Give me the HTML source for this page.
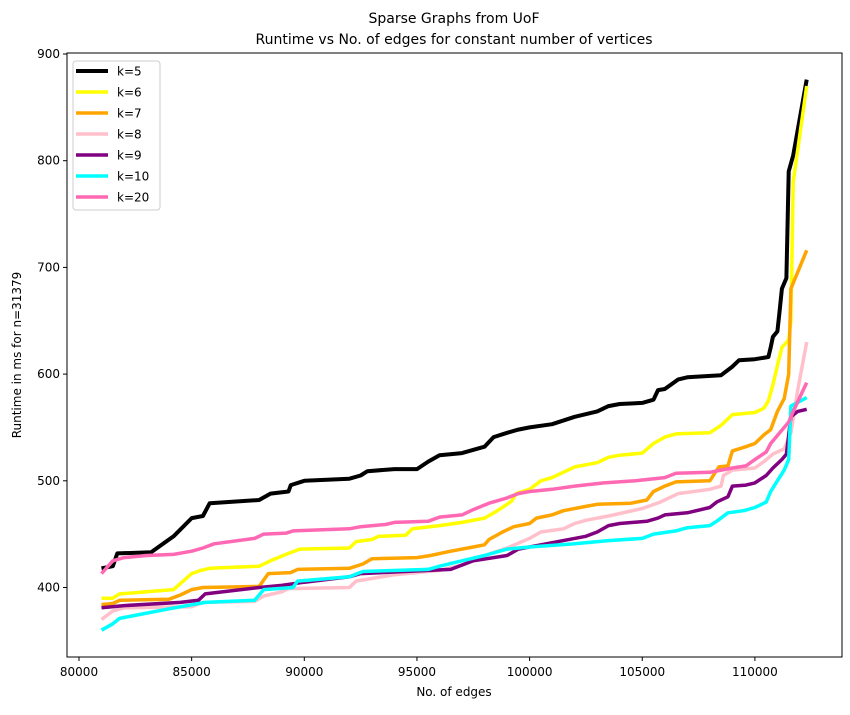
<!DOCTYPE html>
<html><head><meta charset="utf-8"><style>
body{margin:0;background:#fff;font-family:"Liberation Sans","DejaVu Sans",sans-serif}
svg text{font-family:"DejaVu Sans","Liberation Sans",sans-serif;fill:#000}
</style></head><body>
<svg id="chart" width="850" height="710" xmlns="http://www.w3.org/2000/svg">
<text x="454" y="23" font-size="14" text-anchor="middle">Sparse Graphs from UoF</text>
<text x="454" y="44" font-size="14" text-anchor="middle">Runtime vs No. of edges for constant number of vertices</text>
<g id="series"></g>
<rect x="67" y="53" width="775" height="604" fill="none" stroke="#000" stroke-width="1"/>
<g id="xticks"></g>
<g id="yticks"></g>
<text x="454" y="696" font-size="12" text-anchor="middle">No. of edges</text>
<text x="21" y="355" font-size="12" text-anchor="middle" transform="rotate(-90 21 355)">Runtime in ms for n=31379</text>
<g id="legend"></g>
</svg>
<script>
const seriesNames=["k=5","k=6","k=7","k=8","k=9","k=10","k=20"];
const seriesColors=["#000000","#ffff00","#ffa500","#ffc0cb","#800080","#00ffff","#ff69b4"];
const xTicks=[80000,85000,90000,95000,100000,105000,110000];
const yTicks=[400,500,600,700,800,900];
const k5=[[81,418],[81.5,420],[81.7,432],[83.2,433],[84.2,448],[85,465],[85.5,467],[85.8,479],[88,482],[88.5,488],[89.3,490],[89.4,496],[90,500],[92,502],[92.5,505],[92.8,509],[94,511],[95,511],[95.5,518],[96,524],[97,526],[98,532],[98.4,541],[99,545],[99.5,548],[100,550],[101,553],[102,560],[103,565],[103.5,570],[104,572],[105,573],[105.5,576],[105.7,585],[106,586],[106.6,595],[107,597],[108.5,599],[109,607],[109.3,613],[110,614],[110.6,616],[110.7,625],[110.8,635],[111,640],[111.1,660],[111.2,680],[111.4,690],[111.5,790],[111.7,805],[112.3,876]];
const k6=[[81,390],[81.5,390],[81.8,394],[83,396],[84.2,398],[85,413],[85.4,416],[85.8,418],[88,420],[88.5,425],[89.3,432],[89.8,436],[92,437],[92.3,443],[93,445],[93.3,448],[94.5,449],[94.8,455],[96,458],[97,461],[98,465],[98.5,471],[99,478],[99.2,481],[99.4,488],[100,492],[100.5,500],[101,503],[102,513],[103,517],[103.5,522],[104,524],[105,526],[105.5,535],[106,541],[106.5,544],[108,545],[108.5,552],[109,562],[110,564],[110.4,568],[110.6,575],[110.8,590],[111,608],[111.2,625],[111.5,632],[111.6,650],[111.7,780],[112.3,870]];
const k7=[[81,384],[81.5,385],[81.8,388],[84,389],[84.5,393],[85,398],[85.5,400],[88,401],[88.2,407],[88.4,413],[89.4,414],[89.7,417],[92,418],[92.6,422],[93,427],[95,428],[95.6,430],[96.5,434],[97.5,438],[98,440],[98.2,445],[98.8,452],[99.3,457],[100,460],[100.3,465],[101,468],[101.5,472],[102.5,476],[103,478],[104.5,479],[105.2,482],[105.5,490],[106,495],[106.5,499],[108,500],[108.4,513],[108.8,514],[109,528],[109.6,532],[110,535],[110.4,543],[110.7,548],[111,565],[111.3,577],[111.5,600],[111.6,680],[112.3,716]];
const k8=[[81,370],[81.5,378],[82,381],[85,382],[85.5,386],[87.8,387],[88.2,392],[89,396],[89.3,399],[92,400],[92.3,406],[94,412],[96,416],[97,421],[98,430],[99,437],[100,446],[100.5,452],[101.5,455],[102,460],[102.5,463],[103.5,467],[105,474],[105.8,480],[106.6,488],[108,492],[108.5,495],[108.6,505],[109,510],[110,512],[110.4,518],[110.8,525],[111.3,530],[111.6,545],[111.9,585],[112.3,630]];
const k9=[[81,381],[82,383],[84.5,386],[85.3,388],[85.6,394],[88,400],[89,402],[90,405],[92,410],[92.5,413],[96.5,417],[97.5,425],[99,430],[99.5,436],[100.5,440],[101,442],[102.5,448],[103,452],[103.5,458],[104,460],[105.2,462],[105.7,465],[106,468],[107,470],[108,475],[108.3,480],[108.8,485],[109,495],[109.6,496],[110,498],[110.5,505],[110.8,512],[111.2,520],[111.4,525],[111.6,560],[111.9,565],[112.3,567]];
const k10=[[81,360],[81.5,366],[81.8,371],[84,380],[85.6,386],[87.8,388],[88.2,398],[89.5,400],[89.7,406],[92,410],[92.6,415],[95.5,417],[96,420],[97,425],[98,430],[99,436],[100,438],[102,441],[103.5,444],[105,446],[105.5,450],[106.5,453],[107,456],[108,458],[108.3,462],[108.8,470],[109.5,472],[110,475],[110.5,480],[110.7,490],[111,500],[111.3,510],[111.5,520],[111.6,570],[112.3,578]];
const k20=[[81,413],[81.5,425],[82,428],[83,430],[84.2,431],[85,434],[85.5,437],[86,441],[87.8,446],[88.2,450],[89.2,451],[89.5,453],[92,455],[92.5,457],[93.6,459],[94,461],[95.5,462],[96,466],[97,468],[97.5,473],[98.2,479],[99,484],[99.5,488],[100,490],[101,492],[102,495],[103.3,498],[104.7,500],[106,503],[106.5,507],[108,508],[108.5,510],[109,512],[109.6,514],[110,520],[110.5,527],[110.7,535],[111.1,545],[111.5,555],[111.7,565],[112.3,592]];
const allSeries=[k5,k6,k7,k8,k9,k10,k20];
const NS="http://www.w3.org/2000/svg";
function xs(v){return 79+(v-80000)*0.02253;}
function ys(v){return 54+(900-v)*1.067;}
const sg=document.getElementById('series');
allSeries.forEach((s,i)=>{
  const p=document.createElementNS(NS,'polyline');
  
  
  p.setAttribute('points',s.map(d=>xs(d[0]*1000).toFixed(1)+','+ys(d[1]).toFixed(1)).join(' '));
  p.setAttribute('fill','none');p.setAttribute('stroke',seriesColors[i]);
  p.setAttribute('stroke-width',i===0?4:3.5);p.setAttribute('stroke-linejoin','round');
  sg.appendChild(p);
});
const xg=document.getElementById('xticks');
xTicks.forEach(t=>{
  const x=xs(t);
  const l=document.createElementNS(NS,'line');
  
  
  l.setAttribute('x1',x);l.setAttribute('x2',x);l.setAttribute('y1',657);l.setAttribute('y2',661);l.setAttribute('stroke','#000');
  xg.appendChild(l);
  const tx=document.createElementNS(NS,'text');
  
  
  tx.setAttribute('x',x);tx.setAttribute('y',676);tx.setAttribute('font-size','12');tx.setAttribute('text-anchor','middle');
  tx.textContent=t;xg.appendChild(tx);
});
const yg=document.getElementById('yticks');
yTicks.forEach(t=>{
  const y=ys(t);
  const l=document.createElementNS(NS,'line');
  
  
  l.setAttribute('x1',63);l.setAttribute('x2',67);l.setAttribute('y1',y);l.setAttribute('y2',y);l.setAttribute('stroke','#000');
  yg.appendChild(l);
  const tx=document.createElementNS(NS,'text');
  
  
  tx.setAttribute('x',60);tx.setAttribute('y',y+4);tx.setAttribute('font-size','12');tx.setAttribute('text-anchor','end');
  tx.textContent=t;yg.appendChild(tx);
});
const lg=document.getElementById('legend');
const box=document.createElementNS(NS,'rect');


box.setAttribute('x',73);box.setAttribute('y',61);box.setAttribute('width',87);box.setAttribute('height',149);box.setAttribute('rx',3);
box.setAttribute('fill','#fff');box.setAttribute('fill-opacity','0.8');box.setAttribute('stroke','#ccc');
lg.appendChild(box);
seriesNames.forEach((n,i)=>{
  const y=71+i*21;
  const l=document.createElementNS(NS,'line');
  
  
  l.setAttribute('x1',76);l.setAttribute('x2',108);l.setAttribute('y1',y);l.setAttribute('y2',y);
  l.setAttribute('stroke',seriesColors[i]);l.setAttribute('stroke-width',i===0?4:3.5);
  lg.appendChild(l);
  const tx=document.createElementNS(NS,'text');
  
  
  tx.setAttribute('x',117);tx.setAttribute('y',y+4.5);tx.setAttribute('font-size','12');
  tx.textContent=n;lg.appendChild(tx);
});
</script>
</body></html>
